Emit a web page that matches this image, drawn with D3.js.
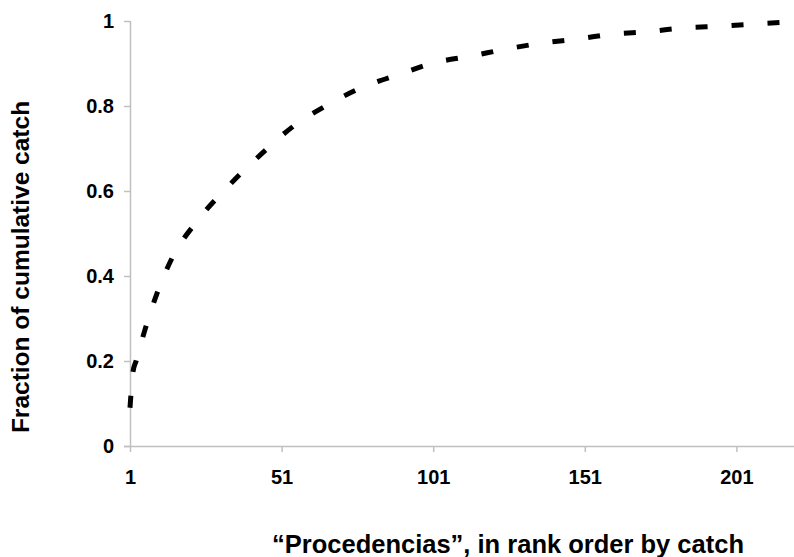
<!DOCTYPE html>
<html>
<head>
<meta charset="utf-8">
<script src="https://cdn.jsdelivr.net/npm/d3@7"></script>
<style>
  html, body { margin: 0; padding: 0; background: #fff; }
  svg { display: block; }
  text { font-family: "Liberation Sans", Arial, Helvetica, sans-serif; font-weight: bold; fill: #000; }
</style>
</head>
<body>
<svg id="chart" width="794" height="557"></svg>
<script>
// Data
const ranks  = [1, 2, 3, 6, 10, 15, 23, 33, 44, 55, 66, 78, 90, 101, 114, 125, 137, 149, 160, 172, 184, 196, 207, 220];
const values = [0.09, 0.175, 0.2, 0.275, 0.361, 0.444, 0.528, 0.608, 0.685, 0.753, 0.802, 0.845, 0.875, 0.901, 0.918, 0.934, 0.948, 0.958, 0.969, 0.975, 0.984, 0.988, 0.993, 0.998];
const xTicks = [1, 51, 101, 151, 201];
const yTicks = [0, 0.2, 0.4, 0.6, 0.8, 1];
const xTitle = "\u201cProcedencias\u201d, in rank order by catch";
const yTitle = "Fraction of cumulative catch";

const svg = d3.select("#chart");
const mLeft = 130, mRight = 794, mTop = 21, mBottom = 446;
const x = d3.scaleLinear().domain([1, 220]).range([mLeft, mRight]);
const y = d3.scaleLinear().domain([0, 1]).range([mBottom, mTop]);
const axisColor = "#c0c0c0";

// X axis
const xAxis = svg.append("g").attr("transform", `translate(0,${mBottom})`)
  .call(d3.axisBottom(x).tickValues(xTicks).tickSize(6).tickPadding(18).tickFormat(d3.format("d")));
xAxis.select(".domain").attr("stroke", axisColor).attr("stroke-width", 1.5).attr("d", `M${mLeft - 6},0.5H${mRight}`);
xAxis.selectAll(".tick line").attr("stroke", axisColor).attr("stroke-width", 1.5);
xAxis.selectAll(".tick text").style("font-size", "20px");

// Y axis
const yAxis = svg.append("g").attr("transform", `translate(${mLeft},0)`)
  .call(d3.axisLeft(y).tickValues(yTicks).tickSize(6).tickPadding(10).tickFormat(d => d === 0 || d === 1 ? String(d) : d3.format(".1f")(d)));
yAxis.select(".domain").attr("stroke", axisColor).attr("stroke-width", 1.5).attr("d", `M0.5,${mTop}V${mBottom}`);
yAxis.selectAll(".tick line").attr("stroke", axisColor).attr("stroke-width", 1.5);
yAxis.selectAll(".tick text").style("font-size", "20px");

// Line
const pts = ranks.map((r, i) => [r, values[i]]);
const line = d3.line().x(d => x(d[0])).y(d => y(d[1])).curve(d3.curveMonotoneX);
svg.append("path")
  .datum(pts)
  .attr("d", line)
  .attr("fill", "none")
  .attr("stroke", "#000")
  .attr("stroke-width", 5)
  .attr("stroke-dasharray", "12,24")
  .attr("stroke-linecap", "butt");

// Titles
svg.append("text")
  .attr("x", 508).attr("y", 553)
  .attr("text-anchor", "middle")
  .style("font-size", "25.5px")
  .text(xTitle);

svg.append("text")
  .attr("transform", "translate(29,267) rotate(-90)")
  .attr("text-anchor", "middle")
  .style("font-size", "24.5px")
  .text(yTitle);
</script>
</body>
</html>
